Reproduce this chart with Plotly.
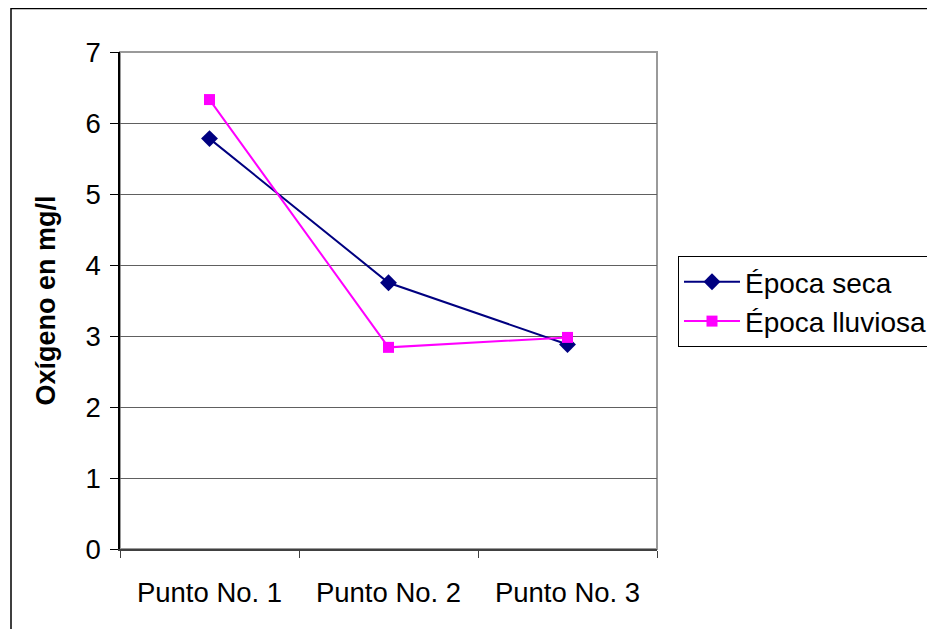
import plotly.graph_objects as go

categories = ["Punto No. 1", "Punto No. 2", "Punto No. 3"]
epoca_seca = [5.78, 3.75, 2.88]
epoca_lluviosa = [6.33, 2.84, 2.98]
y_ticks = [0, 1, 2, 3, 4, 5, 6, 7]

FONT = "Arial, 'Liberation Sans', sans-serif"
W, H = 935, 629
OFF = 8  # page body margin
L, T = 120 - OFF, 52 - OFF
pw, ph = 537, 497
R = W - L - pw
B = H - T - ph

def px_x(x):  # screen x -> paper
    return (x - OFF - L) / pw

def px_y(y):  # screen y -> paper
    return (T + ph - (y - OFF)) / ph

fig = go.Figure()
fig.add_trace(go.Scatter(
    x=categories, y=epoca_seca, name="Época seca", mode="lines+markers",
    line=dict(color="#000080", width=2),
    marker=dict(symbol="diamond", size=13, color="#000080"),
))
fig.add_trace(go.Scatter(
    x=categories, y=epoca_lluviosa, name="Época lluviosa", mode="lines+markers",
    line=dict(color="#FF00FF", width=2),
    marker=dict(symbol="square", size=11, color="#FF00FF"),
))

shapes = [
    dict(type="rect", xref="paper", yref="paper", x0=0, y0=0, x1=1, y1=1,
         line=dict(color="#9a9a9a", width=2), layer="below"),
    dict(type="rect", xref="paper", yref="paper",
         x0=px_x(11), y0=px_y(660), x1=px_x(960), y1=px_y(8.5),
         line=dict(color="black", width=1.5), fillcolor="rgba(0,0,0,0)", layer="below"),
]

fig.update_layout(
    width=W, height=H,
    margin=dict(l=L, r=R, t=T, b=B, pad=0, autoexpand=False),
    paper_bgcolor="white", plot_bgcolor="white",
    font=dict(family=FONT, size=28, color="black"),
    shapes=shapes,
    showlegend=True,
    legend=dict(
        x=px_x(678), y=px_y(256), xanchor="left", yanchor="top",
        bordercolor="black", borderwidth=1, bgcolor="white",
        font=dict(family=FONT, size=28, color="black"),
        tracegroupgap=0, itemwidth=56,
    ),
    xaxis=dict(
        type="category", range=[-0.5, 2.5],
        showgrid=False, showline=True, linecolor="#404040", linewidth=2,
        ticks="outside", tickson="boundaries", ticklen=7, tickcolor="#404040",
        tickwidth=1, tickfont=dict(family=FONT, size=27.5),
        ticklabelstandoff=18,
        zeroline=False,
    ),
    yaxis=dict(
        range=[0, 7], tickvals=y_ticks, ticktext=[str(v) for v in y_ticks],
        showgrid=True, gridcolor="#606060", gridwidth=1,
        showline=True, linecolor="black", linewidth=1.5,
        ticks="outside", ticklen=8, tickcolor="black",
        tickfont=dict(family=FONT, size=27.5),
        ticklabelstandoff=4,
        zeroline=False,
        title=dict(text="<b>Oxígeno en mg/l</b>", font=dict(family=FONT, size=27), standoff=22),
    ),
)

fig.write_html("out.html")
